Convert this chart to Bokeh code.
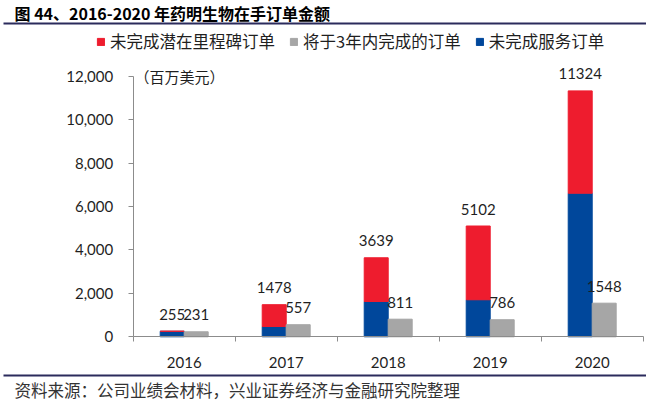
from bokeh.plotting import figure
from bokeh.models import (ColumnDataSource, Range1d, LinearAxis, FixedTicker, NumeralTickFormatter,
                          Legend, LegendItem, Label, LabelSet, BoxAnnotation)
from bokeh.core.properties import value
from bokeh.transform import dodge
from bokeh.embed import file_html
from bokeh.resources import INLINE

# values (百万美元)
years = ["2016", "2017", "2018", "2019", "2020"]
service_orders = [255, 475, 1625, 1705, 6610]        # 未完成服务订单 (blue, bottom)
milestone_orders = [0, 1003, 2014, 3397, 4714]       # 未完成潜在里程碑订单 (red, stacked)
total_labels = [255, 1478, 3639, 5102, 11324]        # labels above the stacked bars
three_year_orders = [231, 557, 811, 786, 1548]       # 将于3年内完成的订单 (grey)

RED = "#EE1C2E"
GREY = "#A6A6A6"
BLUE = "#00479B"
NAVY = "#2B2B5C"
AXIS_GREY = "#8C8C8C"
TXT = "#1F1F1F"
CJK = "Noto Sans CJK SC"
NUM = "Lato"

W, H = 646, 400
OFF = 0.1176   # half a bar, in category units
BAR_W = 0.2353

# the frame covers the whole canvas; axes sit at fixed spots inside it
PX_X = 102.0            # px per category
PX_Y = 260.6 / 12000    # px per unit
X0, Y0 = 132.7, 336.3   # canvas position of (-0.5, 0)

src = ColumnDataSource(dict(
    x=list(range(len(years))),
    service=service_orders,
    milestone=milestone_orders,
    total=total_labels,
    total_txt=[str(v) for v in total_labels],
    three_year=three_year_orders,
    three_year_txt=[str(v) for v in three_year_orders],
))

p = figure(width=W, height=H,
           x_range=Range1d(-0.5 - X0 / PX_X, -0.5 + (W - X0) / PX_X),
           y_range=Range1d(-(H - Y0) / PX_Y, Y0 / PX_Y),
           x_axis_type=None, y_axis_type=None, output_backend="svg", toolbar_location=None,
           min_border=0)
p.outline_line_color = None

yaxis = LinearAxis(ticker=FixedTicker(ticks=list(range(0, 12001, 2000))),
                   formatter=NumeralTickFormatter(format="0,0"),
                   fixed_location=-0.5, bounds=(0, 12000))
yaxis.axis_line_color = AXIS_GREY
yaxis.major_tick_line_color = AXIS_GREY
yaxis.major_tick_out = 5
yaxis.major_tick_in = 0
yaxis.minor_tick_line_color = None
yaxis.major_label_standoff = 15
yaxis.major_label_text_font = NUM
yaxis.major_label_text_font_size = "15px"
yaxis.major_label_text_color = TXT
p.add_layout(yaxis, "left")

xaxis = LinearAxis(ticker=FixedTicker(ticks=[0, 1, 2, 3, 4], minor_ticks=[-0.5, 0.5, 1.5, 2.5, 3.5, 4.5]),
                   fixed_location=0, bounds=(-0.5, 4.5))
xaxis.major_label_overrides = {i: yr for i, yr in enumerate(years)}
xaxis.axis_line_color = AXIS_GREY
xaxis.major_tick_line_color = None
xaxis.major_tick_out = 0
xaxis.major_tick_in = 0
xaxis.minor_tick_line_color = AXIS_GREY
xaxis.minor_tick_out = 5
xaxis.minor_tick_in = 0
xaxis.major_label_standoff = 15
xaxis.major_label_text_font = NUM
xaxis.major_label_text_font_size = "15px"
xaxis.major_label_text_color = TXT
p.add_layout(xaxis, "below")

stack = p.vbar_stack(["service", "milestone"], x=dodge("x", -OFF, range=p.x_range), width=BAR_W,
                     color=[BLUE, RED], source=src)
grey = p.vbar(x=dodge("x", OFF, range=p.x_range), top="three_year", width=BAR_W, color=GREY, source=src)

p.add_layout(LabelSet(x=dodge("x", -OFF, range=p.x_range), y="total", text="total_txt", source=src,
                      text_align="center", text_baseline="middle", y_offset=17,
                      text_font=value(NUM), text_font_size=value("15px"), text_color=value(TXT)))
p.add_layout(LabelSet(x=dodge("x", OFF, range=p.x_range), y="three_year", text="three_year_txt", source=src,
                      text_align="center", text_baseline="middle", y_offset=17,
                      text_font=value(NUM), text_font_size=value("15px"), text_color=value(TXT)))

p.add_layout(Label(x=-0.487, y=12000, text="（百万美元）", text_baseline="middle",
                   text_font=CJK, text_font_size="15px", text_color=TXT))

legend = Legend(items=[LegendItem(label="未完成潜在里程碑订单", renderers=[stack[1]]),
                       LegendItem(label="将于3年内完成的订单", renderers=[grey]),
                       LegendItem(label="未完成服务订单", renderers=[stack[0]])],
                location=(96, H - 53), orientation="horizontal",
                glyph_width=9, glyph_height=9, label_standoff=5, spacing=14,
                padding=0, margin=0, label_height=20,
                border_line_color=None, background_fill_alpha=0,
                label_text_font=CJK, label_text_font_size="16.5px", label_text_color=TXT)
p.add_layout(legend)

# title, rules and source note (canvas pixels)
p.add_layout(Label(x=14, y=12, x_units="canvas", y_units="canvas",
                   text="图 44、2016-2020 年药明生物在手订单金额", text_baseline="middle",
                   text_font=CJK, text_font_style="bold", text_font_size="16px", text_color="black"))
for top in (22, 374):
    p.add_layout(BoxAnnotation(left=3, right=W, top=top, bottom=top + 2,
                               left_units="canvas", right_units="canvas",
                               top_units="canvas", bottom_units="canvas",
                               fill_color=NAVY, fill_alpha=1, line_color=None))
p.add_layout(Label(x=14, y=389, x_units="canvas", y_units="canvas",
                   text="资料来源：公司业绩会材料，兴业证券经济与金融研究院整理", text_baseline="middle",
                   text_font=CJK, text_font_size="16.5px", text_color="#333333"))

open("out.html", "w").write(file_html(p, INLINE))
